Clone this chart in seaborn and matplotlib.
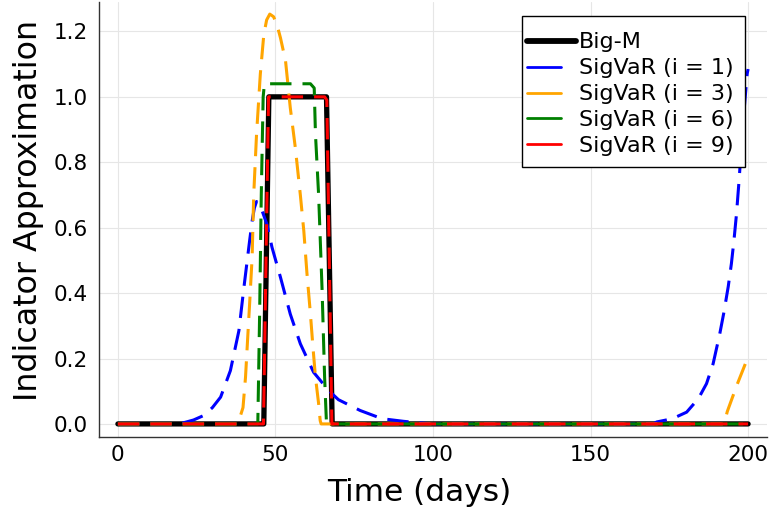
import numpy as np
import pandas as pd
import matplotlib
matplotlib.use("Agg")
import matplotlib.pyplot as plt
from matplotlib.lines import Line2D
from matplotlib.patches import Rectangle
import seaborn as sns

# ---------------- data ----------------
bigm_days = [0, 46.3, 47.9, 66.2, 68.0, 200]
bigm_vals = [0, 0, 1.0, 1.0, 0, 0]

s1_days = [0, 20, 21, 24, 27.3, 30, 32.6, 35.7, 38.4, 39.9, 41.8, 42.6, 43.3, 44.0,
           45.2, 47.3, 48.9, 51.6, 54.7, 57.9, 62.1, 66.9, 70, 76.9, 83.8, 90.6, 96,
           100, 170, 171, 176, 180.5, 184.2, 186.8, 188.9, 191, 192.3, 193.7, 194.7,
           195.5, 196.3, 197.1, 198.4, 199.7, 200]
s1_vals = [0, 0, 0.004, 0.012, 0.026, 0.05, 0.082, 0.163, 0.285, 0.41, 0.56, 0.62, 0.66, 0.68,
           0.667, 0.61, 0.54, 0.448, 0.336, 0.245, 0.158, 0.102, 0.074, 0.041, 0.016, 0.008, 0.003,
           0, 0, 0.006, 0.016, 0.036, 0.077, 0.123, 0.184, 0.275, 0.34, 0.42, 0.49,
           0.56, 0.64, 0.74, 0.92, 1.07, 1.085]

s3_days = [0, 38.0, 38.4, 39.7, 40.5, 41.2, 41.8, 42.6, 43.1, 44.0, 45.2, 46.3, 47.2, 48.2,
           49.4, 50.5, 51.6, 53.2, 54.7, 56.3, 57.9, 59.0, 60.0, 61.1, 61.9, 62.7, 63.7, 64.2,
           64.5, 192.4, 193.4, 196.5, 200]
s3_vals = [0, 0, 0.01, 0.05, 0.143, 0.265, 0.367, 0.51, 0.70, 0.886, 1.07, 1.19, 1.235, 1.253,
           1.245, 1.22, 1.18, 1.11, 0.967, 0.845, 0.70, 0.59, 0.46, 0.336, 0.235, 0.143, 0.062, 0.01,
           0, 0, 0.038, 0.12, 0.205]

s6_days = [0, 44.4, 45.0, 45.5, 46.1, 46.5, 61.1, 62.3, 62.7, 63.7, 64.8, 65.6, 66.2, 200]
s6_vals = [0, 0, 0.35, 0.70, 1.0, 1.04, 1.04, 1.027, 0.886, 0.70, 0.41, 0.143, 0, 0]

s9_days = [0, 46.2, 47.8, 65.6, 66.3, 67.9, 200]
s9_vals = [0, 0, 1.0, 1.0, 0.99, 0, 0]

series_names = ["Big-M", "SigVaR (i = 1)", "SigVaR (i = 3)", "SigVaR (i = 6)", "SigVaR (i = 9)"]
series_colors = ["black", "blue", "orange", "green", "red"]
x_ticks = [0, 50, 100, 150, 200]
y_ticks = [0.0, 0.2, 0.4, 0.6, 0.8, 1.0, 1.2]

# ---------------- style ----------------
sns.set_style("white")
plt.rcParams["font.family"] = ["DejaVu Sans"]
plt.rcParams["text.color"] = "black"
plt.rcParams["axes.labelcolor"] = "black"

fig = plt.figure(figsize=(7.69, 5.07), dpi=100)
W, H = 769, 507
ax = fig.add_axes([99 / W, 70 / H, 668 / W, 435 / H])

all_series = [(bigm_days, bigm_vals), (s1_days, s1_vals), (s3_days, s3_vals),
              (s6_days, s6_vals), (s9_days, s9_vals)]

for i, ((d, v), name, col) in enumerate(zip(all_series, series_names, series_colors)):
    df = pd.DataFrame({"day": d, "val": v})
    lw = 3.8 if i == 0 else 2.2
    sns.lineplot(data=df, x="day", y="val", color=col, linewidth=lw, ax=ax,
                 estimator=None, sort=False, legend=False)
    line = ax.lines[-1]
    if i > 0:
        line.set_dashes((7, 3.6))
    line.set_solid_capstyle("round")
    line.set_solid_joinstyle("round")

ax.set_xlim(-6, 206)
ax.set_ylim(-0.04, 1.29)
ax.set_xticks(x_ticks)
ax.set_xticklabels([str(t) for t in x_ticks])
ax.set_yticks(y_ticks)
ax.set_yticklabels([f"{t:.1f}" for t in y_ticks])

ax.grid(True, color="#e6e6e6", linewidth=0.8)
ax.set_axisbelow(True)
for s in ["top", "right"]:
    ax.spines[s].set_visible(False)
for s in ["left", "bottom"]:
    ax.spines[s].set_color("#333333")
    ax.spines[s].set_linewidth(1.0)
ax.tick_params(direction="in", length=4, width=1.0, color="#333333",
               labelsize=15.5, labelcolor="black")
ax.tick_params(axis="y", pad=8)
ax.tick_params(axis="x", pad=6)

ax.set_xlabel("Time (days)", fontsize=22.5, color="black")
ax.set_ylabel("Indicator Approximation", fontsize=22.8, color="black")
ax.xaxis.set_label_coords(0.48, -0.095)
ax.yaxis.set_label_coords(-0.083, 0.52)

# legend frame (pixel box of the reference legend)
fig.patches.append(Rectangle((522 / W, (H - 167) / H), 223 / W, 151 / H,
                             transform=fig.transFigure, facecolor="white",
                             edgecolor="black", linewidth=1.0, zorder=4))

handles = [Line2D([], [], color=c, linewidth=(4.2 if i == 0 else 2.0),
                  solid_capstyle="round")
           for i, c in enumerate(series_colors)]
leg = fig.legend(handles, series_names, loc="upper left",
                 bbox_to_anchor=(527 / W, (H - 32.5) / H), bbox_transform=fig.transFigure,
                 borderaxespad=0, borderpad=0, fontsize=16, frameon=False,
                 handlelength=1.55, handletextpad=0.8, labelspacing=0.265)
leg.set_zorder(5)
bl = leg.get_lines()[0]
xd = np.asarray(bl.get_xdata(), dtype=float)
bl.set_xdata(np.linspace(xd[0], xd[-1] + 10.5, len(xd)))

fig.savefig("out.png", dpi=100)
